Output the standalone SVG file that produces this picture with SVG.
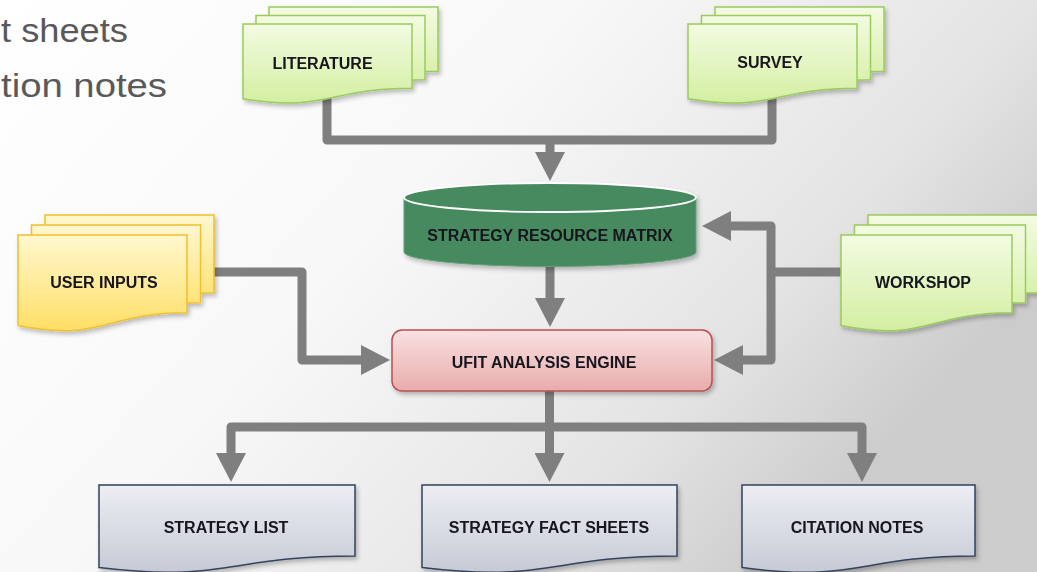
<svg xmlns="http://www.w3.org/2000/svg" width="1037" height="572" viewBox="0 0 1037 572">
<defs>
<linearGradient id="bg" x1="0" y1="0" x2="1" y2="0.5">
<stop offset="0" stop-color="#ffffff"/>
<stop offset="0.45" stop-color="#f8f8f8"/>
<stop offset="0.8" stop-color="#e4e4e4"/>
<stop offset="1" stop-color="#cccccc"/>
</linearGradient>
<linearGradient id="gGreen" x1="0" y1="0" x2="0" y2="1">
<stop offset="0" stop-color="#f3fbe2"/>
<stop offset="1" stop-color="#d3efa2"/>
</linearGradient>
<linearGradient id="gYellow" x1="0" y1="0" x2="0" y2="1">
<stop offset="0" stop-color="#fff7cf"/>
<stop offset="1" stop-color="#ffdf66"/>
</linearGradient>
<linearGradient id="gGray" x1="0" y1="0" x2="0" y2="1">
<stop offset="0" stop-color="#eceef3"/>
<stop offset="1" stop-color="#c6cad5"/>
</linearGradient>
<linearGradient id="gPink" x1="0" y1="0" x2="0" y2="1">
<stop offset="0" stop-color="#f9e1e1"/>
<stop offset="1" stop-color="#e8acac"/>
</linearGradient>
<filter id="sh" x="-10%" y="-10%" width="130%" height="140%">
<feDropShadow dx="2" dy="3" stdDeviation="2" flood-color="#000" flood-opacity="0.25"/>
</filter>
<marker id="ah" viewBox="0 0 29 30" markerUnits="userSpaceOnUse" markerWidth="29" markerHeight="30" refX="1" refY="15" orient="auto">
<path d="M0,0 L29,15 L0,30 Z" fill="#7f7f7f"/>
</marker>
</defs>
<style>
.green{fill:url(#gGreen);stroke:#9acb5c;stroke-width:1.5}
.yellow{fill:url(#gYellow);stroke:#f0c02e;stroke-width:1.5}
.gray{fill:url(#gGray);stroke:#33425f;stroke-width:1.5}
.lbl{font-family:"Liberation Sans",Arial,sans-serif;font-weight:bold;font-size:16px;fill:#15151f;text-anchor:middle}
.big{font-family:"Liberation Sans",Arial,sans-serif;font-size:34px;fill:#595959}
.conn{fill:none;stroke:#7f7f7f;stroke-width:9;stroke-linejoin:round}
</style>
<rect x="0" y="0" width="1037" height="572" fill="url(#bg)"/>

<text class="big" x="1" y="42" textLength="127" lengthAdjust="spacingAndGlyphs">t sheets</text>
<text class="big" x="1" y="97" textLength="166" lengthAdjust="spacingAndGlyphs">tion notes</text>

<g id="connectors">
<path class="conn" d="M327,95 V140 H772 V96"/>
<path class="conn" d="M550,140 V153" marker-end="url(#ah)"/>
<path class="conn" d="M550,266 V299" marker-end="url(#ah)"/>
<path class="conn" d="M212,272 H302 V360 H362" marker-end="url(#ah)"/>
<path class="conn" d="M843,272 H771"/>
<path class="conn" d="M771,272 V226 H730" marker-end="url(#ah)"/>
<path class="conn" d="M771,272 V360 H742" marker-end="url(#ah)"/>
<path class="conn" d="M549.5,390 V454" marker-end="url(#ah)"/>
<path class="conn" d="M549.5,427 H231 V454" marker-end="url(#ah)"/>
<path class="conn" d="M549.5,427 H862 V454" marker-end="url(#ah)"/>
</g>

<g id="literature" filter="url(#sh)">
<path class="green" transform="translate(26,-17)" d="M243,24 H412 V88.2 C327.5,88.2 327.5,112.6 243,98.7 Z"/>
<path class="green" transform="translate(13,-8.5)" d="M243,24 H412 V88.2 C327.5,88.2 327.5,112.6 243,98.7 Z"/>
<path class="green" d="M243,24 H412 V88.2 C327.5,88.2 327.5,112.6 243,98.7 Z"/>
<text class="lbl" x="322.5" y="69">LITERATURE</text>
</g>

<g id="survey" filter="url(#sh)">
<path class="green" transform="translate(27,-17)" d="M688,24 H857 V88.2 C772.5,88.2 772.5,112.6 688,98.7 Z"/>
<path class="green" transform="translate(13.5,-8.5)" d="M688,24 H857 V88.2 C772.5,88.2 772.5,112.6 688,98.7 Z"/>
<path class="green" d="M688,24 H857 V88.2 C772.5,88.2 772.5,112.6 688,98.7 Z"/>
<text class="lbl" x="770" y="68">SURVEY</text>
</g>

<g id="user-inputs" filter="url(#sh)">
<path class="yellow" transform="translate(27,-20)" d="M18,235 H187 V312.8 C102.5,312.8 102.5,342.4 18,325.6 Z"/>
<path class="yellow" transform="translate(13.5,-10)" d="M18,235 H187 V312.8 C102.5,312.8 102.5,342.4 18,325.6 Z"/>
<path class="yellow" d="M18,235 H187 V312.8 C102.5,312.8 102.5,342.4 18,325.6 Z"/>
<text class="lbl" x="104" y="288">USER INPUTS</text>
</g>

<g id="workshop" filter="url(#sh)">
<path class="green" transform="translate(27,-20)" d="M841,235 H1012 V312.8 C926.5,312.8 926.5,342.4 841,325.6 Z"/>
<path class="green" transform="translate(13.5,-10)" d="M841,235 H1012 V312.8 C926.5,312.8 926.5,342.4 841,325.6 Z"/>
<path class="green" d="M841,235 H1012 V312.8 C926.5,312.8 926.5,342.4 841,325.6 Z"/>
<text class="lbl" x="923" y="288">WORKSHOP</text>
</g>

<g id="strategy-resource-matrix" filter="url(#sh)">
<path d="M404,197.5 V252 A146,14.5 0 0 0 696,252 V197.5 Z" fill="#478a5f" stroke="#65a07a" stroke-width="1"/>
<ellipse cx="550" cy="197.5" rx="146" ry="14.5" fill="#478a5f" stroke="#ffffff" stroke-width="1.8"/>
<text class="lbl" x="550" y="241">STRATEGY RESOURCE MATRIX</text>
</g>

<g id="ufit-analysis-engine" filter="url(#sh)">
<rect x="392" y="330" width="320" height="61" rx="10" fill="url(#gPink)" stroke="#b9504c" stroke-width="1.5"/>
<text class="lbl" x="544" y="368">UFIT ANALYSIS ENGINE</text>
</g>

<g id="strategy-list" filter="url(#sh)">
<path class="gray" d="M99,485 H355 V556 C227,556 227,583 99,567.6 Z"/>
<text class="lbl" x="226" y="533">STRATEGY LIST</text>
</g>

<g id="strategy-fact-sheets" filter="url(#sh)">
<path class="gray" d="M422,485 H677 V556 C549.5,556 549.5,583 422,567.6 Z"/>
<text class="lbl" x="549" y="533">STRATEGY FACT SHEETS</text>
</g>

<g id="citation-notes" filter="url(#sh)">
<path class="gray" d="M742,485 H975 V556 C858.5,556 858.5,583 742,567.6 Z"/>
<text class="lbl" x="857" y="533">CITATION NOTES</text>
</g>
</svg>
